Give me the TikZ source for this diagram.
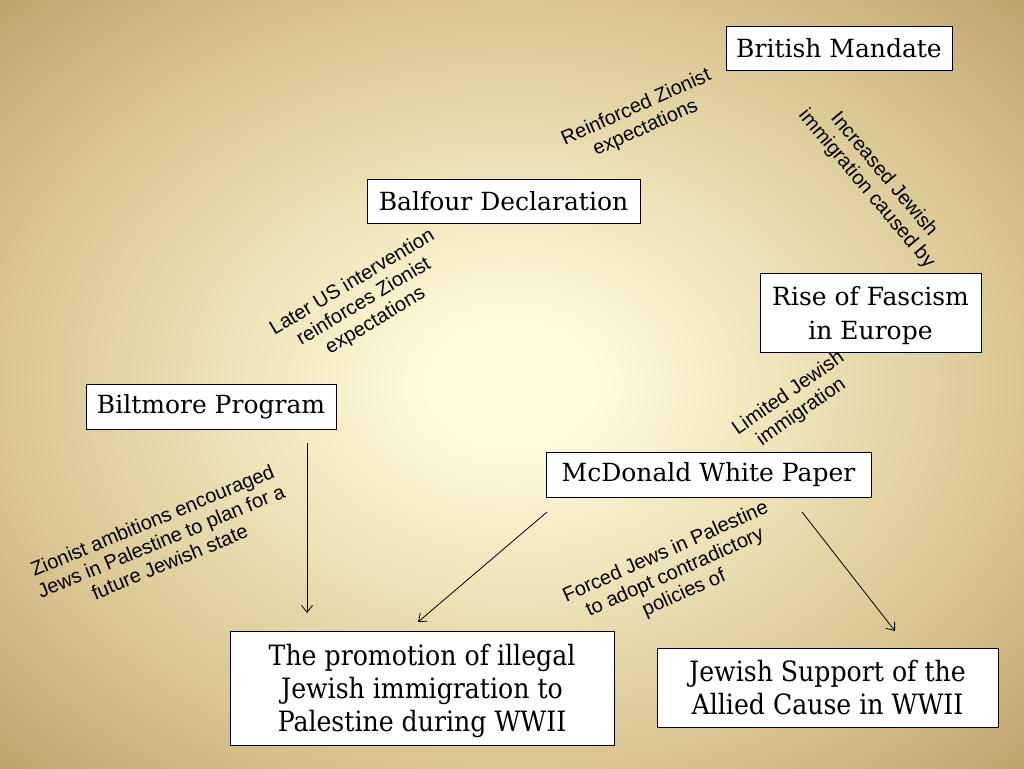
\documentclass[tikz,border=0pt]{standalone}
\usepackage{fontspec}
\setmainfont{DejaVu Serif}
\setsansfont{Liberation Sans}
\newfontfamily\condserif{DejaVu Serif Condensed}
\usetikzlibrary{arrows.meta}
\definecolor{bgc0}{HTML}{FFFBDA}
\definecolor{bgc1}{HTML}{D9C592}
\definecolor{bgc2}{HTML}{C0A06C}
\pgfdeclareradialshading{bgshade}{\pgfpoint{0bp}{0bp}}{color(0bp)=(bgc0); color(4bp)=(bgc0); color(25bp)=(bgc1); color(36bp)=(bgc2); color(50bp)=(bgc2)}
\tikzset{
  box/.style={draw=black, line width=0.9pt, fill=white, font=\fontsize{25}{30}\selectfont, inner sep=0pt, align=center},
  bigbox/.style={box, font=\condserif\fontsize{28}{33}\selectfont},
  lbl/.style={font=\sffamily\fontsize{20}{22.5}\selectfont, align=center, inner sep=0pt},
  arr/.style={draw=black, line width=0.8pt, -{Straight Barb[length=7pt,width=11pt]}}
}
\begin{document}
\begin{tikzpicture}[x=1pt,y=-1pt]
\useasboundingbox (0,0) rectangle (1024,768);
\shade[shading=bgshade] (0,0) rectangle (1024,768);

\node[box, minimum width=226pt, minimum height=44pt] (brit) at (839,48) {British Mandate};
\node[box, minimum width=273pt, minimum height=44pt] (balf) at (503.5,201) {Balfour Declaration};
\node[box, minimum width=221pt, minimum height=79pt] (fasc) at (870.5,312.5) {\rule{0pt}{26pt}Rise of Fascism\\[4pt]in Europe};
\node[box, minimum width=250pt, minimum height=45pt] (bilt) at (211,406.5) {Biltmore Program};
\node[box, minimum width=325pt, minimum height=45pt] (mcd) at (708.5,474.5) {McDonald White Paper};
\node[bigbox, minimum width=384pt, minimum height=114pt] (prom) at (422,688) {\rule{0pt}{28pt}The promotion of illegal\\Jewish immigration to\\Palestine during WWII};
\node[bigbox, minimum width=341pt, minimum height=79pt] (supp) at (827.5,687.5) {Jewish Support of the\\Allied Cause in WWII};

\node[lbl, rotate=24] (l1) at (641,118) {Reinforced Zionist\\expectations};
\node[lbl, rotate=-50] (l2) at (875,182) {Increased Jewish\\immigration caused by};
\node[lbl, rotate=31] (l3) at (364,302) {Later US intervention\\reinforces Zionist\\expectations};
\node[lbl, rotate=35] (l4) at (795,403) {Limited Jewish\\immigration};
\node[lbl, rotate=22.5] (l5) at (161,541) {Zionist ambitions encouraged\\Jews in Palestine to plan for a\\future Jewish state};
\node[lbl, rotate=24] (l6) at (675,573) {Forced Jews in Palestine\\to adopt contradictory\\policies of};

\coordinate (a1s) at (307,443);
\coordinate (a1e) at (307,613);
\coordinate (a2s) at (547,512);
\coordinate (a2e) at (418,622);
\coordinate (a3s) at (802,512);
\coordinate (a3e) at (895,631);
\draw[arr] (a1s) -- (a1e);
\draw[arr] (a2s) -- (a2e);
\draw[arr] (a3s) -- (a3e);
\end{tikzpicture}
\end{document}
